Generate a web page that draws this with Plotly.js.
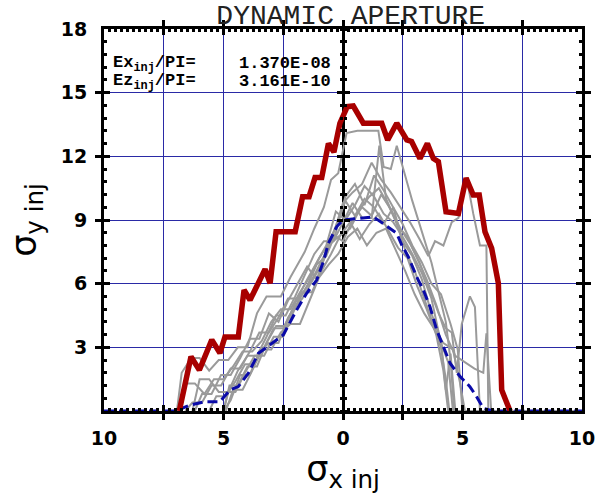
<!DOCTYPE html>
<html><head><meta charset="utf-8">
<script src="https://cdn.plot.ly/plotly-3.0.1.min.js"></script>
<style>html,body{margin:0;padding:0;background:#fff}#chart{width:610px;height:499px}</style>
</head><body><div id="chart"></div>
<script>
// ---- data ----
const redX = [-6.85,-6.36,-6.01,-5.49,-5.15,-4.94,-4.38,-4.14,-3.89,-3.26,-3.05,-2.80,-2.00,-1.69,-1.42,-1.17,-0.89,-0.61,-0.38,-0.13,0.18,0.43,0.85,1.62,1.87,2.25,2.67,2.87,3.22,3.53,3.78,3.99,4.31,4.83,5.15,5.45,5.70,5.94,6.22,6.50,6.64,6.99];
const redY = [0,2.56,1.93,3.35,2.73,3.49,3.49,5.70,5.23,6.68,6.02,8.45,8.45,10.1,10.1,11.0,11.0,12.6,12.2,13.56,14.34,14.37,13.56,13.56,12.77,13.56,12.77,12.7,11.9,12.6,11.9,11.75,9.39,9.31,10.97,10.18,10.18,8.45,7.67,6.02,0.99,0];

const meanX = [-10,-7.0,-6.4,-5.77,-5.15,-4.73,-4.38,-3.96,-3.54,-2.98,-2.50,-1.94,-1.52,-1.10,-0.82,-0.61,-0.26,0,0.57,1.27,1.76,2.25,2.46,2.73,3.08,3.36,3.64,3.92,4.20,4.48,4.90,5.31,5.59,5.87,6.29,10];
const meanY = [0,0,0.28,0.44,0.44,0.99,1.15,1.78,2.72,3.19,3.58,4.76,5.55,6.17,7.04,7.90,8.69,9.0,9.08,9.15,8.77,8.37,7.82,7.27,6.33,5.70,4.91,3.82,3.03,2.25,1.62,1.15,0.67,0.13,0,0];

const seed1x = [-6.95,-6.75,-6.35,-6.0,-5.6,-5.2,-4.8,-4.4,-4.0,-3.6,-3.2,-2.6,-2.2,-1.6,-1.2,-0.8,-0.5,-0.2,0.15,0.6,1.48,1.7,2.0,2.25,2.9,3.3,3.7,4.0,4.3,4.5,4.65,10];
const seed1y = [0,1.8,2.5,2.5,1.9,2.4,2.4,3.0,3.0,4.6,5.4,5.4,6.3,7.5,8.6,9.6,10.9,11.2,13.1,13.2,13.2,11.5,11.4,12.5,9.9,8.4,7.0,5.6,4.2,2.4,0,0];
const seed2x = [-6.9,-6.6,-6.2,-5.8,-5.4,-5.0,-4.6,-4.2,-3.8,-3.4,-3.0,-2.6,-2.2,-1.8,-1.4,-1.0,-0.6,-0.3,0.0,0.4,0.8,1.2,1.6,2.0,2.4,2.8,3.2,3.57,3.85,4.2,4.55,4.83,5.17,5.45,5.73,6.0,6.08,10];
const seed2y = [0,1.3,1.3,0.8,1.5,1.5,2.1,2.8,2.8,3.3,4.2,4.8,4.8,5.6,6.3,7.2,7.9,8.7,9.8,10.3,10.7,11.7,10.9,10.3,9.6,8.9,8.1,7.3,8.0,7.8,8.9,9.1,11.0,9.3,7.8,7.8,0,0];
const seed3x = [-5.0,-4.75,-4.4,-4.0,-3.6,-3.2,-2.8,-2.4,-2.0,-1.6,-1.2,-0.8,-0.4,0.0,0.4,0.8,1.2,1.6,2.0,2.4,2.8,3.2,3.6,4.0,4.3,4.55,4.76,4.97,5.31,5.52,5.73,10];
const seed3y = [0,1.2,1.2,2.1,2.1,3.2,4.0,4.0,5.1,5.7,6.4,7.3,8.3,8.0,9.0,9.6,9.2,10.2,9.5,8.6,7.9,7.0,5.8,4.6,3.9,3.7,1.8,4.1,5.4,4.9,0,0];
const seed4x = [-5.0,-4.8,-4.5,-4.1,-3.7,-3.3,-2.9,-2.5,-2.1,-1.7,-1.3,-0.9,-0.5,-0.1,0.3,0.7,1.1,1.5,1.9,2.3,2.7,3.1,3.5,3.9,4.3,4.7,5.1,5.5,5.87,6.0,6.2,10];
const seed4y = [0,0.9,0.9,1.8,2.6,2.6,3.5,3.5,4.6,5.6,5.6,6.6,7.4,8.3,8.6,9.5,10.1,10.5,9.7,8.7,8.2,7.2,6.2,5.0,3.6,2.6,2.3,2.0,1.8,3.66,0,0];
const seed5x = [-6.3,-6.0,-5.6,-5.2,-4.8,-4.4,-4.0,-3.6,-3.2,-2.8,-2.4,-2.0,-1.6,-1.2,-0.8,-0.4,0.0,0.4,0.8,1.2,1.52,1.8,2.2,2.6,3.0,3.4,3.8,4.1,4.3,4.45,10];
const seed5y = [0,1.5,1.5,0.9,0.9,1.9,2.6,2.6,3.5,4.5,4.5,5.4,6.4,7.4,8.0,8.0,8.9,9.8,9.1,9.1,12.5,10.0,9.0,7.6,6.6,5.3,4.0,3.0,1.5,0,0];
const seed6x = [-5.0,-4.7,-4.3,-3.9,-3.5,-3.1,-2.7,-2.3,-1.9,-1.5,-1.1,-0.7,-0.3,0.1,0.5,0.9,1.3,1.7,2.1,2.5,2.9,3.3,3.7,4.1,4.3,4.5,4.7,10];
const seed6y = [0,0.5,1.7,1.7,2.8,3.2,3.2,4.4,5.1,5.9,6.9,7.3,8.4,10.1,10.7,9.7,11.1,10.4,9.6,8.0,7.3,6.2,4.6,3.3,1.0,2.7,0,0];
const seed7x = [-5.6,-5.3,-4.9,-4.5,-4.1,-3.7,-3.3,-2.9,-2.5,-2.1,-1.7,-1.3,-0.9,-0.5,-0.1,0.3,0.7,1.1,1.5,1.9,2.3,2.7,3.1,3.5,3.9,4.2,4.4,10];
const seed7y = [0,0.7,0.7,1.4,2.2,2.2,3.0,3.9,3.9,4.8,5.3,6.1,6.9,7.9,8.3,8.9,8.1,8.8,9.3,8.5,7.7,7.2,5.9,4.8,3.6,1.9,0,0];
const seed8x = [-6.2,-5.9,-5.5,-5.1,-4.7,-4.3,-3.9,-3.5,-3.1,-2.7,-2.3,-1.9,-1.5,-1.1,-0.7,-0.3,0.1,0.5,0.9,1.3,1.7,2.1,2.5,2.9,3.3,3.7,4.1,4.5,4.8,5.0,10];
const seed8y = [0,0.8,0.8,1.7,1.7,2.5,3.4,3.4,4.6,4.2,5.2,6.0,6.8,6.2,7.5,8.7,9.9,9.2,10.0,9.6,8.8,9.6,8.8,7.8,7.0,6.0,5.5,4.1,2.9,0,0];
const seed9x = [-4.9,-4.6,-4.2,-3.8,-3.4,-3.0,-2.6,-2.2,-1.8,-1.4,-1.0,-0.6,-0.2,0.2,0.6,1.0,1.4,1.8,2.2,2.6,3.0,3.4,3.8,4.2,4.6,4.9,5.1,10];
const seed9y = [0,1.0,1.0,1.9,2.9,2.9,3.7,4.1,4.1,5.2,6.3,6.9,7.4,8.2,8.6,7.8,8.4,8.6,7.6,6.6,5.5,4.6,3.9,3.2,2.9,1.3,0,0];
const seed10x = [-6.6,-6.3,-5.9,-5.5,-5.1,-4.7,-4.3,-3.9,-3.5,-3.1,-2.7,-2.3,-1.9,-1.5,-1.1,-0.7,-0.3,0.1,0.5,0.9,1.3,1.7,2.1,2.5,2.9,3.3,3.7,4.1,4.4,4.6,10];
const seed10y = [0,0.4,0.4,1.2,1.2,2.0,2.0,2.8,3.7,3.7,4.4,5.3,5.3,6.2,7.0,7.8,9.4,9.0,9.7,10.6,10.1,9.3,8.9,8.2,7.4,6.5,5.3,3.2,2.3,0,0];

const xTickVals = [-10,-7.5,-5,-2.5,0,2.5,5,7.5,10];
const xTickText = ['10','','5','','0','','5','','10'];
const yTickVals = [0,3,6,9,12,15,18];
const yTickText = ['','3','6','9','12','15','18'];
const zeroTickVals = [3,6,9,12,15];
const emitLabels = ['Ex<sub>inj</sub>/PI=','Ez<sub>inj</sub>/PI='];
const emitValues = ['1.370E-08','3.161E-10'];
const emitRows = [16.37, 15.52];

// ---- traces ----
const seedsX = [seed1x,seed2x,seed3x,seed4x,seed5x,seed6x,seed7x,seed8x,seed9x,seed10x];
const seedsY = [seed1y,seed2y,seed3y,seed4y,seed5y,seed6y,seed7y,seed8y,seed9y,seed10y];
const traces = [];
seedsX.forEach((sx,i)=>{
  traces.push({x:sx, y:seedsY[i], type:'scatter', mode:'lines',
    line:{color:'#9a9a9a', width:2}, hoverinfo:'skip', showlegend:false});
});
traces.push({x:meanX, y:meanY, type:'scatter', mode:'lines',
  line:{color:'#0a0aa8', width:3, dash:'10px,5px'}, showlegend:false});
traces.push({x:redX, y:redY, type:'scatter', mode:'lines',
  line:{color:'#a80000', width:5.5}, showlegend:false});
// empty helper traces so the extra tick-only axes get drawn
[['x','y2'],['x','y3'],['x','y4'],['x','y5'],['x','y6'],['x2','y']].forEach(p=>{
  traces.push({x:[], y:[], xaxis:p[0], yaxis:p[1], type:'scatter', mode:'lines', showlegend:false});
});

const tickFont = {family:'DejaVu Sans', size:19, weight:'bold', color:'black'};
const monoFont = {family:'Liberation Mono, Courier New, monospace', size:17, weight:'bold', color:'black'};

const annotations = [];
emitRows.forEach((yy,i)=>{
  annotations.push({x:-9.72, y:yy, xref:'x', yref:'y', text:emitLabels[i], showarrow:false,
    xanchor:'left', yanchor:'middle', font:monoFont});
  annotations.push({x:-0.42, y:yy, xref:'x', yref:'y', text:emitValues[i], showarrow:false,
    xanchor:'right', yanchor:'middle', height:15, valign:'middle', font:monoFont});
});

const tickOnly = {showticklabels:false, showgrid:false, zeroline:false, showline:false, fixedrange:true, tickcolor:'black'};
const zeroAxis = (side, major)=>Object.assign({}, tickOnly, {overlaying:'y', anchor:'free', position:0.5, side:side, range:[0,18],
  ticks:'outside'},
  major ? {tickmode:'array', tickvals:zeroTickVals, ticklen:6, tickwidth:3}
        : {tickmode:'linear', tick0:0, dtick:0.6, ticklen:3, tickwidth:3});

const layout = {
  width:610, height:499,
  margin:{l:104, r:28, t:29, b:88},
  paper_bgcolor:'white', plot_bgcolor:'white',
  showlegend:false,
  title:{text:'DYNAMIC APERTURE', font:{family:'Liberation Mono, Courier New, monospace', size:28, color:'#222'},
    x:0.575, xanchor:'center', xref:'container', y:0.972, yanchor:'middle', yref:'container'},
  xaxis:{range:[-10,10], tickmode:'array', tickvals:xTickVals, ticktext:xTickText,
    ticks:'inside', ticklen:6, tickwidth:3, tickcolor:'black',
    showline:true, linewidth:3, linecolor:'black', mirror:'allticks',
    showgrid:true, gridcolor:'#2a2aa6', gridwidth:1,
    zeroline:true, zerolinecolor:'black', zerolinewidth:3,
    tickfont:tickFont, ticklabelstandoff:8, fixedrange:true,
    title:{text:'σ<sub>x inj</sub>', font:{family:'DejaVu Sans', size:35, color:'black'}, standoff:2}},
  xaxis2:Object.assign({}, tickOnly, {overlaying:'x', anchor:'y', side:'bottom', range:[-10,10],
    tickmode:'linear', tick0:0, dtick:0.25, ticks:'inside', ticklen:3, tickwidth:3, mirror:'allticks'}),
  yaxis:{range:[0,18], tickmode:'array', tickvals:yTickVals, ticktext:yTickText,
    ticks:'inside', ticklen:6, tickwidth:3, tickcolor:'black',
    showline:true, linewidth:3, linecolor:'black', mirror:'allticks',
    showgrid:true, gridcolor:'#2a2aa6', gridwidth:1, zeroline:false,
    tickfont:tickFont, ticklabelstandoff:10, fixedrange:true,
    title:{text:'σ<sub>y inj</sub>', font:{family:'DejaVu Sans', size:35, color:'black'}, standoff:14}},
  yaxis2:zeroAxis('left', true),
  yaxis3:zeroAxis('right', true),
  yaxis4:zeroAxis('left', false),
  yaxis5:zeroAxis('right', false),
  yaxis6:Object.assign({}, tickOnly, {overlaying:'y', anchor:'x', side:'left', range:[0,18],
    tickmode:'linear', tick0:0, dtick:0.6, ticks:'inside', ticklen:3, tickwidth:3, mirror:'allticks'}),
  annotations:annotations
};

Plotly.newPlot('chart', traces, layout, {displayModeBar:false, staticPlot:true});
</script>
</body></html>
